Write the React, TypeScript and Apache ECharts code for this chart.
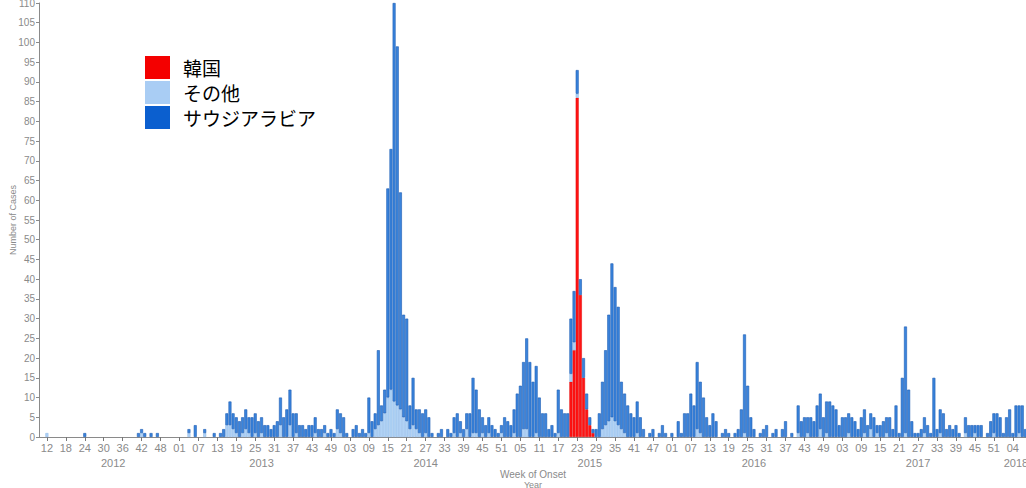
import React, { useEffect, useRef } from "react";
import * as echarts from "echarts";

// Year segments of the week axis: [year, firstWeek, lastWeek]
const yearSpans: [number, number, number][] = [
  [2012, 10, 53],
  [2013, 1, 52],
  [2014, 1, 52],
  [2015, 1, 52],
  [2016, 1, 52],
  [2017, 1, 53],
  [2018, 1, 8],
];

// Category index where each year label sits
const yearLabelIndex: Record<number, string> = {
  23: "2012",
  70: "2013",
  122: "2014",
  174: "2015",
  226: "2016",
  278: "2017",
  309: "2018",
};

// Saudi Arabia weekly cases
const saudi2012 = [0,0,0,0,0,0,0,0,0,0, 0,0,0,0,1,0,0,0,0,0, 0,0,0,0,0,0,0,0,0,0, 0,1,1,1,0,1,0,1,0,0, 0,0,0,0];
const saudi2013 = [0,0,0,1,0,3,0,0,1,0, 0,1,0,1,2,3,6,4,4,4, 4,5,4,5,5,4,4,3,3,2, 3,4,7,5,7,9,6,5,3,3, 2,3,3,4,2,2,2,1,2,1, 5,5];
const saudi2014 = [5,1,0,2,3,1,2,1,9,4, 4,19,4,6,53,61,101,91,55,26, 26,6,12,5,6,6,6,5,1,0, 1,2,0,2,1,4,6,3,2,4, 6,14,11,7,4,3,4,3,2,1, 2,5];
const saudi2015 = [4,3,6,11,13,17,23,19,14,17, 10,6,6,2,3,1,11,7,6,6, 14,13,6,4,5,4,2,1,2,6, 12,19,27,39,34,30,12,10,8,6, 5,8,5,2,0,1,2,0,1,3, 1,0];
const saudi2016 = [1,0,4,1,6,6,11,8,17,13, 10,5,3,6,4,0,1,2,1,0, 1,2,7,25,13,5,2,0,1,2, 3,0,1,2,0,2,4,0,1,0, 7,4,5,4,5,4,8,9,5,8, 9,8];
const saudi2017 = [7,3,5,5,5,5,4,2,5,6, 3,4,5,2,3,4,4,5,2,8, 1,15,27,12,4,1,1,2,4,3, 1,15,2,6,6,2,3,2,3,1, 0,4,3,3,2,3,3,0,1,4, 5,6,5];
const saudi2018 = [1,5,7,1,8,7,8,2];

// Other countries weekly cases
const other2012 = [0,0,1,0,0,0,0,0,0,0, 0,0,0,0,0,0,0,0,0,0, 0,0,0,0,0,0,0,0,0,0, 0,0,1,0,0,0,0,0,0,0, 0,0,0,0];
const other2013 = [0,0,0,1,0,0,0,0,1,0, 0,0,0,0,0,3,3,2,1,0, 1,2,1,0,1,0,1,0,0,0, 0,0,3,0,0,3,0,1,0,0, 0,0,0,1,0,0,1,0,0,0, 2,1];
const other2014 = [0,0,0,0,0,0,0,0,1,0, 2,3,4,6,10,12,9,8,7,5, 4,2,3,2,1,0,1,0,0,0, 0,0,0,0,0,1,0,1,0,2, 0,1,1,0,1,0,1,0,0,0, 1,0];
const other2015 = [0,0,1,0,0,2,2,0,0,1, 0,0,0,0,0,0,1,0,0,0, 2,2,1,0,0,0,0,0,0,0, 2,3,4,5,4,3,2,1,0,0, 0,1,0,0,0,0,0,0,0,0, 0,0];
const other2016 = [0,0,0,0,0,0,0,0,2,1, 0,0,0,0,0,0,0,0,0,0, 0,0,0,1,0,0,0,0,0,0, 0,0,0,0,0,0,0,0,0,0, 1,0,0,1,0,0,0,2,0,1, 0,0];
const other2017 = [0,0,0,0,1,0,0,0,0,1, 0,2,0,1,0,0,1,0,0,0, 0,0,1,0,0,0,0,0,1,0, 0,0,0,1,0,0,0,0,0,0, 0,1,0,0,1,0,0,0,0,0, 1,0,0];
const other2018 = [0,0,0,0,0,1,0,0];

// Republic of Korea weekly cases (2015 only)
const korea2015 = [0,0,0,0,0,0,0,0,0,0, 0,0,0,0,0,0,0,0,0,0, 14,22,86,36,15,7,3,1,0,0, 0,0,0,0,0,0,0,0,0,0, 0,0,0,0,0,0,0,0,0,0, 0,0];

const weekCategories: string[] = [];
yearSpans.forEach(([, first, last]) => {
  for (let w = first; w <= last; w++) weekCategories.push(String(w).padStart(2, "0"));
});

const zeros = (n: number) => new Array(n).fill(0);
const saudi = [...saudi2012, ...saudi2013, ...saudi2014, ...saudi2015, ...saudi2016, ...saudi2017, ...saudi2018];
const other = [...other2012, ...other2013, ...other2014, ...other2015, ...other2016, ...other2017, ...other2018];
const korea = [...zeros(44), ...zeros(52), ...zeros(52), ...korea2015, ...zeros(52), ...zeros(53), ...zeros(8)];

const nz = (a: number[]) => a.map((v) => (v === 0 ? null : v));

const weekLabelShown = (i: number) => i >= 2 && (i - 2) % 6 === 0;

const AXIS_FONT = "Liberation Sans, Arial, sans-serif";

export default function App() {
  const ref = useRef<HTMLDivElement>(null);
  useEffect(() => {
    if (!ref.current) return;
    const chart = echarts.init(ref.current, undefined, { renderer: "svg" });
    chart.setOption({
      animation: false,
      backgroundColor: "#ffffff",
      grid: {
        left: 39,
        top: 3,
        width: 988,
        height: 434,
        containLabel: false,
        outerBoundsMode: "none",
      },
      legend: {
        orient: "vertical",
        left: 145,
        top: 56,
        padding: 0,
        itemWidth: 25,
        itemHeight: 23,
        itemGap: 2,
        icon: "rect",
        selectedMode: false,
        data: [
          { name: "韓国", itemStyle: { color: "#f40000", borderWidth: 0 } },
          { name: "その他", itemStyle: { color: "#a9cdf4", borderWidth: 0 } },
          { name: "サウジアラビア", itemStyle: { color: "#0b5fcf", borderWidth: 0 } },
        ],
        textStyle: {
          fontSize: 19,
          color: "#000",
          fontFamily: "Noto Sans CJK JP",
          padding: [0, 0, 0, 8],
        },
      },
      xAxis: [
        {
          type: "category",
          data: weekCategories,
          boundaryGap: true,
          axisLine: { show: true, lineStyle: { color: "#8a8a8a", width: 1 } },
          axisTick: {
            show: true,
            alignWithLabel: true,
            interval: (i: number) => weekLabelShown(i),
            length: 4,
            lineStyle: { color: "#777" },
          },
          axisLabel: {
            interval: (i: number) => weekLabelShown(i),
            color: "#8a8a8a",
            fontSize: 11,
            fontFamily: AXIS_FONT,
            margin: 5,
          },
          name: "Week of Onset",
          nameLocation: "middle",
          nameGap: 32,
          nameMoveOverlap: false,
          nameTextStyle: { color: "#8a8a8a", fontSize: 10, fontFamily: AXIS_FONT },
        },
        {
          type: "category",
          data: weekCategories,
          position: "bottom",
          boundaryGap: true,
          axisLine: { show: false },
          axisTick: { show: false },
          axisLabel: {
            interval: (i: number) => yearLabelIndex[i] !== undefined,
            formatter: (_v: string, i: number) => yearLabelIndex[i] ?? "",
            color: "#8a8a8a",
            fontSize: 11,
            fontFamily: AXIS_FONT,
            margin: 20,
          },
          name: "Year",
          nameLocation: "middle",
          nameGap: 43,
          nameMoveOverlap: false,
          nameTextStyle: { color: "#8a8a8a", fontSize: 9, fontFamily: AXIS_FONT },
        },
      ],
      yAxis: {
        type: "value",
        min: 0,
        max: 110,
        interval: 5,
        axisLine: { show: true, lineStyle: { color: "#8a8a8a" } },
        axisTick: { show: true, length: 3, lineStyle: { color: "#8a8a8a" } },
        splitLine: { show: false },
        axisLabel: { color: "#8a8a8a", fontSize: 10, fontFamily: AXIS_FONT, margin: 4 },
        name: "Number of Cases",
        nameLocation: "middle",
        nameRotate: 90,
        nameGap: 22,
        nameMoveOverlap: false,
        nameTextStyle: { color: "#8a8a8a", fontSize: 9, fontFamily: AXIS_FONT },
      },
      series: [
        {
          name: "韓国",
          type: "bar",
          stack: "cases",
          barCategoryGap: "6%",
          data: nz(korea),
          itemStyle: { color: "#ff1414", borderColor: "#e00000", borderWidth: 0.5 },
        },
        {
          name: "その他",
          type: "bar",
          stack: "cases",
          data: nz(other),
          itemStyle: { color: "#b0d2f5", borderColor: "#86b5e6", borderWidth: 0.5 },
        },
        {
          name: "サウジアラビア",
          type: "bar",
          stack: "cases",
          data: nz(saudi),
          itemStyle: { color: "#3a84dc", borderColor: "#1c5cb4", borderWidth: 0.6 },
        },
      ],
    });
    return () => chart.dispose();
  }, []);
  return (
    <div
      ref={ref}
      style={{ position: "fixed", left: 0, top: 0, width: 1026, height: 488, background: "#fff" }}
    />
  );
}
